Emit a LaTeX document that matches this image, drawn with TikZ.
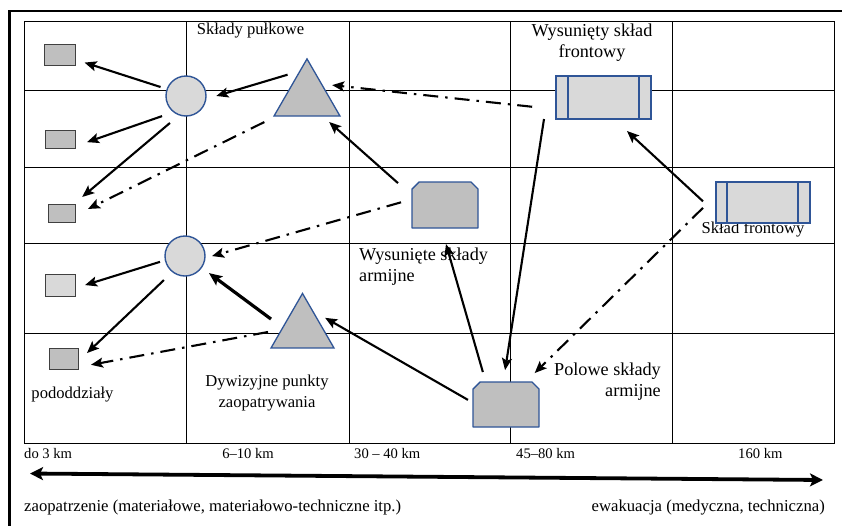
\documentclass[tikz,border=0pt]{standalone}
\usepackage{fontspec}
\setmainfont{Liberation Serif}
\usetikzlibrary{arrows.meta,shapes.geometric}
\definecolor{bord}{HTML}{2F5597}
\definecolor{gdark}{HTML}{BFBFBF}
\definecolor{glight}{HTML}{D9D9D9}
\begin{document}
\begin{tikzpicture}[x=1pt,y=-1pt,
  gridline/.style={line width=1pt},
  smallbox/.style={draw=black!75, line width=1pt, inner sep=0, outer sep=0},
  circ/.style={circle, draw=bord, fill=glight, line width=1.4pt, minimum size=40pt, inner sep=0, outer sep=0},
  tri/.style={regular polygon, regular polygon sides=3, draw=bord, fill=gdark, line width=1.3pt, inner sep=0, outer sep=0},
  holder/.style={draw=none, inner sep=0, outer sep=0},
  chamf/.style={draw=bord, fill=gdark, line width=1.4pt, line join=round},
  front/.style={draw=bord, fill=glight, line width=1.4pt, inner sep=0, outer sep=0},
  bar/.style={draw=bord, line width=1.4pt},
  arr/.style={line width=2.1pt, -{Stealth[length=12pt,width=10pt,inset=2.5pt]}},
  arrthick/.style={line width=3.2pt, -{Stealth[length=13pt,width=11pt,inset=2.5pt]}},
  dd/.style={arr, dash pattern=on 15pt off 7pt on 2.5pt off 7pt},
  lbl/.style={font=\fontsize{16.6}{20.5}\selectfont, inner sep=0, align=center},
  lblbig/.style={font=\fontsize{18.2}{21}\selectfont, inner sep=0},
  km/.style={font=\fontsize{14.6}{17}\selectfont, inner sep=0},
  bottom/.style={font=\fontsize{16.7}{20}\selectfont, inner sep=0}
]
\useasboundingbox (0,0) rectangle (842,525);
\fill[white] (0,0) rectangle (842,525);

% outer frame
\draw[line width=2.8pt] (9.5,530) -- (9.5,11) -- (845,11);

% grid
\draw[gridline] (24,21) rectangle (834,443);
\foreach \xx in {186,349,510,672} \draw[gridline] (\xx,21) -- (\xx,443);
\foreach \yy in {90,167,243,333} \draw[gridline] (24,\yy) -- (834,\yy);

% labels
\node[lbl] (tpulk) at (250.5,31) {Składy pułkowe};
\node[lblbig, align=center] (twfront) at (592,42.5) {Wysunięty skład\\frontowy};
\node[lbl] (tfront) at (753,229) {Skład frontowy};
\node[lblbig, align=left, anchor=west] (twarm) at (359,266.5) {Wysunięte składy\\armijne};
\node[lblbig, align=right, anchor=east] (tpol) at (661,381.5) {Polowe składy\\armijne};
\node[lbl] (tpod) at (72.5,395) {pododdziały};
\node[lbl] (tdyw) at (267,393) {Dywizyjne punkty\\zaopatrywania};

\node[km, anchor=west] (k1) at (24,453) {do 3 km};
\node[km] (k2) at (248,453) {6–10 km};
\node[km, anchor=west] (k3) at (354,453) {30 – 40 km};
\node[km, anchor=west] (k4) at (516,453) {45–80 km};
\node[km, anchor=west] (k5) at (738,453) {160 km};

\node[bottom, anchor=west] (zaop) at (24,507) {zaopatrzenie (materiałowe, materiałowo-techniczne itp.)};
\node[bottom, anchor=east] (ewak) at (825,507) {ewakuacja (medyczna, techniczna)};

% small boxes
\node[smallbox, fill=gdark, minimum width=31pt, minimum height=21pt] (r1) at (59.5,54.5) {};
\node[smallbox, fill=gdark, minimum width=30pt, minimum height=18pt] (r2) at (60,139) {};
\node[smallbox, fill=gdark, minimum width=27pt, minimum height=18pt] (r3) at (61.5,213) {};
\node[smallbox, fill=glight, minimum width=30pt, minimum height=22pt] (r4) at (60,285) {};
\node[smallbox, fill=gdark, minimum width=29pt, minimum height=21pt] (r5) at (63.5,358.5) {};

% circles
\node[circ] (c1) at (186,96) {};
\node[circ] (c2) at (185,256) {};

% triangles
\node[tri, minimum size=76.2pt] (t1) at (307,97) {};
\node[tri, minimum size=72.7pt] (t2) at (302.5,329.8) {};

% chamfered boxes
\node[holder, minimum width=66pt, minimum height=46pt] (b1) at (445,205) {};
\draw[chamf] (b1.south west) -- ([yshift=-7pt]b1.north west) -- ([xshift=7pt]b1.north west) -- ([xshift=-7pt]b1.north east) -- ([yshift=-7pt]b1.north east) -- (b1.south east) -- cycle;
\node[holder, minimum width=66pt, minimum height=45pt] (b2) at (506,404.5) {};
\draw[chamf] (b2.south west) -- ([yshift=-7pt]b2.north west) -- ([xshift=7pt]b2.north west) -- ([xshift=-7pt]b2.north east) -- ([yshift=-7pt]b2.north east) -- (b2.south east) -- cycle;

% front depots
\node[front, minimum width=95pt, minimum height=43pt] (f1) at (603.5,97.5) {};
\draw[bar] ([xshift=12pt]f1.north west) -- ([xshift=12pt]f1.south west);
\draw[bar] ([xshift=-12pt]f1.north east) -- ([xshift=-12pt]f1.south east);
\node[front, minimum width=94pt, minimum height=41pt] (f2) at (763,202.5) {};
\draw[bar] ([xshift=11pt]f2.north west) -- ([xshift=11pt]f2.south west);
\draw[bar] ([xshift=-12pt]f2.north east) -- ([xshift=-12pt]f2.south east);

% solid connectors
\draw[arr, shorten <=7pt, shorten >=10pt] (c1.160) -- (r1);
\draw[arr, shorten <=13pt, shorten >=11pt] (t1.105) -- (c1.-9);
\draw[arr, shorten <=12.6pt, shorten >=12.7pt] (c1.233) -- (r2.-26);
\draw[arr, shorten <=12.5pt, shorten >=10.9pt] (c1.251) -- (r3.36);
\draw[arr, shorten <=18.7pt, shorten >=9pt] (b1.164) -- (t1.-51);
\draw[arr, shorten <=5.7pt, shorten >=10.5pt] (c2.192) -- (r4.-12);
\draw[arr, shorten <=12pt, shorten >=12.4pt] (c2.232) -- (r5.-12);
\draw[arrthick, shorten <=14.6pt, shorten >=9.4pt] (t2.174) -- (c2.-35);
\draw[arr, shorten <=5.8pt, shorten >=14.7pt] (b2.177) -- (t2.63);
\draw[arr, shorten <=10.4pt, shorten >=16.7pt] (b2.132) -- (b1.261);
\draw[arr, shorten <=17.7pt, shorten >=17.7pt] (f2.193) -- (f1.-64);
\draw[arr, shorten >=12pt] ([xshift=-12pt]f1.south west) -- (b2.97);

% dash-dot connectors
\draw[dd, shorten <=24pt, shorten >=10.7pt] (f1.194) -- (t1.42);
\draw[dd, shorten <=13.6pt, shorten >=14.5pt] (t1.212) -- (r3.-10);
\draw[dd, shorten <=11.4pt, shorten >=7.4pt] (b1.170) -- (c2.-6);
\draw[dd, shorten <=13.9pt, shorten >=13.2pt] (t2.179) -- (r5.-31);
\draw[dd, shorten <=18.2pt, shorten >=12.8pt] (f2.171) -- (b2.49);

% big double arrow
\coordinate (lt) at (30,473.5);
\coordinate (rt) at (823,480);
\draw[line width=3.8pt, {Stealth[length=13pt,width=13pt,inset=3pt]}-{Stealth[length=13pt,width=13pt,inset=3pt]}] (lt) -- (rt);
\end{tikzpicture}
\end{document}
